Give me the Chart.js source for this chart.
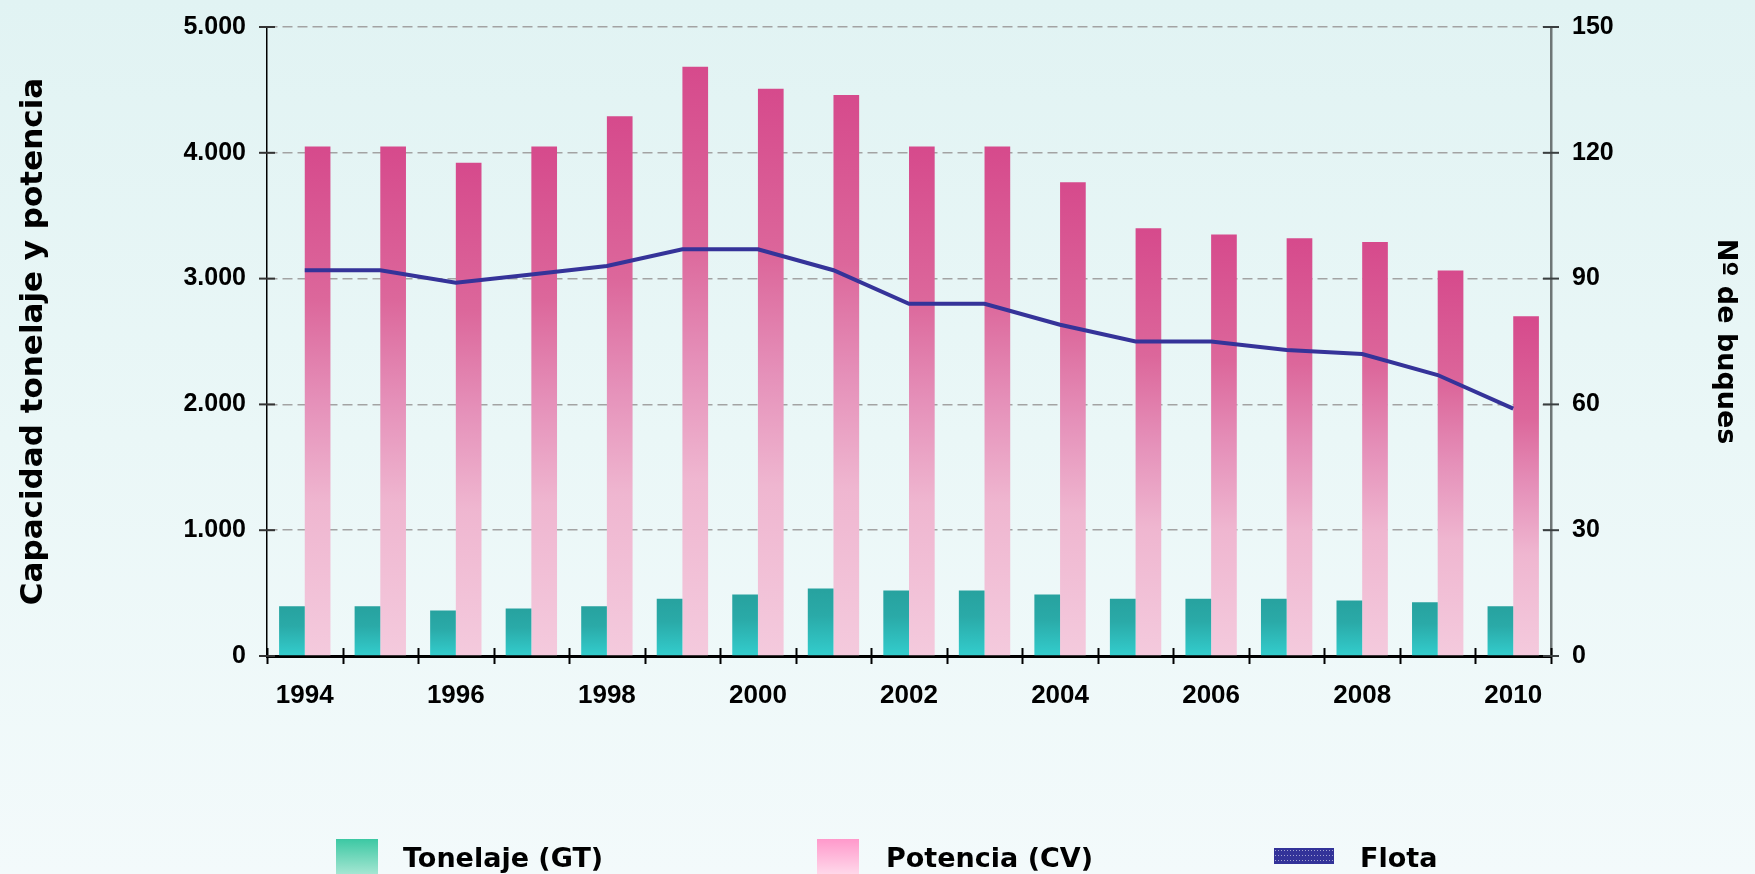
<!DOCTYPE html>
<html>
<head>
<meta charset="utf-8">
<script src="https://cdn.jsdelivr.net/npm/chart.js@4.4.1/dist/chart.umd.min.js"></script>
<style>
  html, body { margin: 0; padding: 0; }
  body {
    width: 1755px; height: 874px; overflow: hidden; position: relative;
    background: linear-gradient(to bottom, #e1f3f3 0%, #eaf7f7 50%, #f3fafb 100%);
    font-family: "Liberation Sans", Arial, sans-serif;
  }
  #c { position: absolute; left: 0; top: -9px; }
  .lg-box { position: absolute; }
  .lg-txt { position: absolute; font-family: "DejaVu Sans", sans-serif; font-weight: bold; font-size: 27px; line-height: 27px; color: #000; white-space: nowrap; }
</style>
</head>
<body>
<canvas id="c" width="1755" height="883"></canvas>
<div class="lg-box" style="left:336px;top:839px;width:42px;height:35px;background:linear-gradient(to bottom,#3cc8a3,#a4e6d2);"></div>
<div class="lg-txt" style="left:403px;top:844px;">Tonelaje (GT)</div>
<div class="lg-box" style="left:817px;top:839px;width:42px;height:35px;background:linear-gradient(to bottom,#ff99cb,#ffd8ea);"></div>
<div class="lg-txt" style="left:886px;top:844px;">Potencia (CV)</div>
<div class="lg-box" style="left:1274px;top:848px;width:60px;height:16px;background-color:#333399;background-image:radial-gradient(circle, rgba(255,255,255,0.55) 0.7px, transparent 1px);background-size:3px 5px;"></div>
<div class="lg-txt" style="left:1360px;top:844px;">Flota</div>
<script>
const years = ['1994','1995','1996','1997','1998','1999','2000','2001','2002','2003','2004','2005','2006','2007','2008','2009','2010'];
const tonelaje = [395, 395, 362, 378, 395, 456, 488, 536, 520, 520, 488, 456, 456, 456, 442, 427, 395];
const potencia = [4050, 4050, 3920, 4050, 4290, 4685, 4510, 4460, 4050, 4050, 3765, 3400, 3350, 3320, 3290, 3065, 2700];
const flota = [92, 92, 89, 91, 93, 97, 97, 92, 84, 84, 79, 75, 75, 73, 72, 67, 59];
const leftTicks = ['0', '1.000', '2.000', '3.000', '4.000', '5.000'];
const rightTicks = ['0', '30', '60', '90', '120', '150'];
const seriesNames = ['Tonelaje (GT)', 'Potencia (CV)', 'Flota'];
const axisTitles = ['Capacidad tonelaje y potencia', 'Nº de buques'];

function barGradient(stops) {
  return function(ctx) {
    const chart = ctx.chart;
    if (!chart.chartArea || ctx.raw === undefined) return stops[0][1];
    const ys = chart.scales.y;
    const top = ys.getPixelForValue(ctx.raw);
    const base = ys.getPixelForValue(0);
    if (!(base > top)) return stops[0][1];
    const g = chart.ctx.createLinearGradient(0, top, 0, base);
    stops.forEach(s => g.addColorStop(s[0], s[1]));
    return g;
  };
}

const crossTicks = {
  id: 'crossTicks',
  afterDraw(chart) {
    const ctx = chart.ctx;
    const x = chart.scales.x, y = chart.scales.y, y1 = chart.scales.y1;
    const area = chart.chartArea;
    ctx.save();
    ctx.strokeStyle = '#000';
    ctx.lineWidth = 2;
    const n = years.length;
    const w = (x.right - x.left) / n;
    for (let i = 0; i <= n; i++) {
      const px = Math.round(x.left + i * w) + 0.5;
      ctx.beginPath();
      ctx.moveTo(px, area.bottom - 8);
      ctx.lineTo(px, area.bottom + 8);
      ctx.stroke();
    }
    ctx.strokeStyle = '#333';
    ctx.lineWidth = 2;
    y.ticks.forEach((t, i) => {
      const py = y.getPixelForTick(i);
      ctx.beginPath();
      ctx.moveTo(area.left - 8, py);
      ctx.lineTo(area.left + 8, py);
      ctx.stroke();
    });
    ctx.strokeStyle = '#3a3f40';
    y1.ticks.forEach((t, i) => {
      const py = y1.getPixelForTick(i);
      ctx.beginPath();
      ctx.moveTo(area.right - 8, py);
      ctx.lineTo(area.right + 8, py);
      ctx.stroke();
    });
    ctx.restore();
  }
};

const tickFont = { family: '"Liberation Sans", Arial, sans-serif', size: 25, weight: 'bold' };

new Chart(document.getElementById('c'), {
  data: {
    labels: years,
    datasets: [
      {
        type: 'bar', label: seriesNames[0], data: tonelaje, yAxisID: 'y', order: 2,
        backgroundColor: barGradient([[0, '#27a29f'], [0.4, '#2aaaa8'], [1, '#33cdcd']]),
        barPercentage: 1, categoryPercentage: 0.68, borderWidth: 0
      },
      {
        type: 'bar', label: seriesNames[1], data: potencia, yAxisID: 'y', order: 2,
        backgroundColor: barGradient([[0, '#d64a8c'], [0.3, '#dc679b'], [0.5, '#e590b9'], [0.7, '#efb6d0'], [1, '#f4cadd']]),
        barPercentage: 1, categoryPercentage: 0.68, borderWidth: 0
      },
      {
        type: 'line', label: seriesNames[2], data: flota, yAxisID: 'y1', order: 0,
        borderColor: '#353399', borderWidth: 4, pointRadius: 0, tension: 0, fill: false
      }
    ]
  },
  options: {
    responsive: false,
    animation: false,
    devicePixelRatio: 1,
    layout: { padding: { top: 17, left: 0, right: 0, bottom: 0 } },
    plugins: { legend: { display: false }, tooltip: { enabled: false } },
    scales: {
      x: {
        offset: true,
        grid: { display: false, drawTicks: false },
        border: { display: true, color: '#000', width: 3 },
        ticks: {
          autoSkip: false, maxRotation: 0, padding: 24, color: '#000',
          font: { family: '"Liberation Sans", Arial, sans-serif', size: 26, weight: 'bold' },
          callback: function(v, i) { return i % 2 === 0 ? years[i] : ''; }
        },
        afterFit: function(s) { s.height = 218; }
      },
      y: {
        position: 'left', min: 0, max: 5000,
        ticks: { stepSize: 1000, padding: 21, color: '#000', font: tickFont,
          callback: function(v, i) { return leftTicks[i]; } },
        grid: {
          drawTicks: false, lineWidth: 1.5,
          color: function(c) { return c.tick && c.tick.value === 0 ? 'rgba(0,0,0,0)' : '#a3a3a3'; }
        },
        border: { display: true, color: '#000', width: 1.5, dash: [10, 5] },
        title: { display: true, text: axisTitles[0], color: '#000',
          font: { family: '"DejaVu Sans", sans-serif', size: 31, weight: 'bold' }, padding: { top: 15, bottom: 0 } },
        afterFit: function(s) { s.width = 267; }
      },
      y1: {
        position: 'right', min: 0, max: 150,
        ticks: { stepSize: 30, padding: 21, color: '#000', font: tickFont,
          callback: function(v, i) { return rightTicks[i]; } },
        grid: { drawOnChartArea: false, drawTicks: false },
        border: { display: true, color: '#6e7676', width: 2.5 },
        title: { display: true, text: axisTitles[1], color: '#000',
          font: { family: '"DejaVu Sans", sans-serif', size: 27, weight: 'bold' }, padding: { top: 14, bottom: 0 } },
        afterFit: function(s) { s.width = 204; }
      }
    }
  },
  plugins: [crossTicks]
});
</script>
</body>
</html>
